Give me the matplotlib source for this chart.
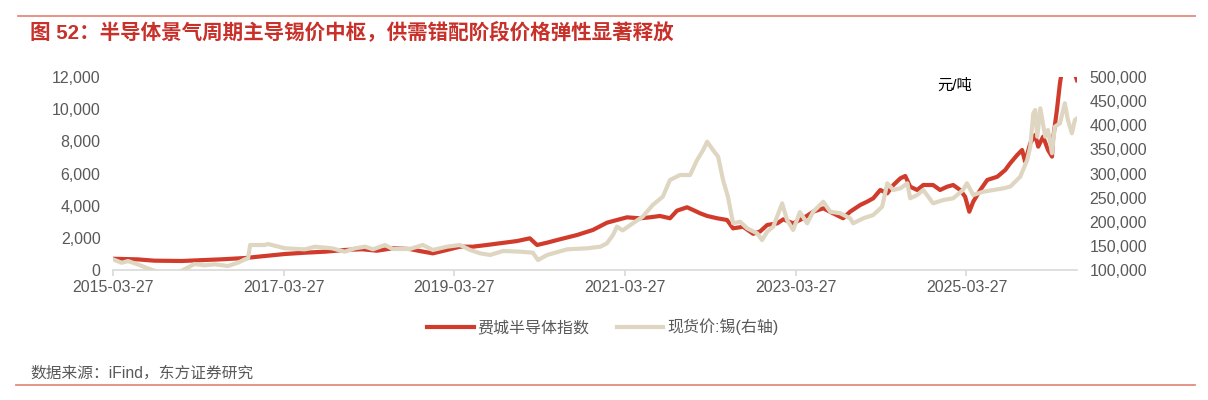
import matplotlib
matplotlib.use("Agg")
import matplotlib.pyplot as plt
from matplotlib.lines import Line2D
from matplotlib.ticker import FuncFormatter
import matplotlib.dates as mdates
import pandas as pd

plt.rcParams["font.family"] = ["Liberation Sans", "Noto Sans CJK SC"]

# 费城半导体指数 (left axis)
sox_dates = [
    "2015-03-27", "2015-07-10", "2015-09-20", "2016-01-15", "2016-04-22", "2016-07-05",
    "2016-10-12", "2017-01-05", "2017-04-01", "2017-06-25", "2017-09-20", "2017-12-13",
    "2018-02-24", "2018-04-30", "2018-07-06", "2018-09-17", "2018-10-30", "2018-12-25",
    "2019-02-23", "2019-04-20", "2019-06-14", "2019-08-13", "2019-10-07", "2019-12-20",
    "2020-02-13", "2020-03-15", "2020-04-27", "2020-06-21", "2020-09-02", "2020-11-09",
    "2021-01-08", "2021-02-20", "2021-04-04", "2021-05-29", "2021-07-11", "2021-08-23",
    "2021-10-05", "2021-11-04", "2021-12-17", "2022-01-12", "2022-02-11", "2022-03-13",
    "2022-04-25", "2022-06-06", "2022-07-02", "2022-08-14", "2022-09-26", "2022-10-26",
    "2022-11-25", "2023-01-07", "2023-02-02", "2023-03-16", "2023-04-28", "2023-06-10",
    "2023-07-23", "2023-09-03", "2023-10-16", "2023-11-15", "2023-12-28", "2024-01-27",
    "2024-02-22", "2024-03-23", "2024-04-22", "2024-05-18", "2024-06-17", "2024-07-08",
    "2024-07-29", "2024-08-28", "2024-09-23", "2024-11-04", "2024-12-04", "2025-01-03",
    "2025-01-29", "2025-02-28", "2025-03-21", "2025-04-08", "2025-04-25", "2025-05-25",
    "2025-06-24", "2025-08-06", "2025-09-09", "2025-09-30", "2025-10-30", "2025-11-20",
    "2025-12-03", "2025-12-25", "2026-01-15", "2026-01-28", "2026-02-18", "2026-03-11",
    "2026-03-28", "2026-04-01", "2026-04-18", "2026-05-01", "2026-05-14", "2026-06-05",
    "2026-06-24", "2026-07-13",
]
sox_values = [
    700, 660, 580, 560, 620, 665,
    745, 870, 995, 1075, 1140, 1245,
    1290, 1200, 1350, 1305, 1180, 1035,
    1245, 1450, 1450, 1555, 1660, 1800,
    1970, 1555, 1700, 1910, 2175, 2490,
    2940, 3110, 3275, 3215, 3275, 3360,
    3215, 3690, 3900, 3730, 3525, 3360,
    3215, 3110, 2590, 2690, 2250, 2400,
    2800, 2900, 3150, 2900, 3215, 3625,
    3835, 3525, 3215, 3625, 4040, 4250,
    4460, 4975, 4770, 5285, 5700, 5845,
    5180, 4975, 5285, 5285, 4975, 5180,
    5285, 4975, 4560, 3625, 4250, 4975,
    5600, 5800, 6220, 6635, 7150, 7460,
    6735, 7880, 8395, 7670, 8290, 7460,
    7050, 8085, 9950, 11610, 12800, 13200,
    12600, 11800,
]

# 现货价:锡 (right axis, 元/吨)
tin_dates = [
    "2015-03-27", "2015-05-04", "2015-05-30", "2015-07-10", "2015-08-22", "2015-10-04",
    "2015-12-03", "2016-01-27", "2016-03-10", "2016-04-22", "2016-06-04", "2016-07-31",
    "2016-09-12", "2016-10-12", "2016-10-25", "2016-11-03", "2017-01-05", "2017-01-18",
    "2017-04-01", "2017-06-25", "2017-08-07", "2017-10-19", "2017-12-13", "2018-01-26",
    "2018-03-10", "2018-04-13", "2018-06-03", "2018-07-06", "2018-09-17", "2018-11-12",
    "2018-12-25", "2019-02-23", "2019-04-20", "2019-06-02", "2019-07-15", "2019-08-27",
    "2019-10-22", "2020-01-03", "2020-02-26", "2020-03-19", "2020-04-27", "2020-07-22",
    "2020-10-16", "2020-12-11", "2021-01-08", "2021-02-03", "2021-02-20", "2021-03-16",
    "2021-04-29", "2021-06-10", "2021-07-23", "2021-09-04", "2021-10-05", "2021-11-17",
    "2021-12-30", "2022-01-29", "2022-02-24", "2022-03-13", "2022-04-07", "2022-04-29",
    "2022-05-20", "2022-06-10", "2022-07-02", "2022-08-01", "2022-08-31", "2022-10-13",
    "2022-11-03", "2022-11-25", "2022-12-21", "2023-01-28", "2023-02-18", "2023-03-16",
    "2023-04-14", "2023-05-15", "2023-06-10", "2023-07-23", "2023-08-22", "2023-10-04",
    "2023-11-15", "2023-11-28", "2024-01-10", "2024-02-22", "2024-03-31", "2024-04-22",
    "2024-05-18", "2024-06-17", "2024-07-17", "2024-07-29", "2024-08-28", "2024-09-23",
    "2024-11-04", "2024-12-18", "2025-01-29", "2025-03-12", "2025-03-29", "2025-04-25",
    "2025-06-07", "2025-07-20", "2025-09-01", "2025-09-30", "2025-11-12", "2025-12-12",
    "2025-12-25", "2026-01-07", "2026-01-15", "2026-01-24", "2026-02-06", "2026-02-27",
    "2026-03-11", "2026-03-28", "2026-04-09", "2026-05-01", "2026-05-22", "2026-06-04",
    "2026-06-21", "2026-07-04", "2026-07-13",
]
tin_values = [
    122000, 115000, 118600, 111800, 103500, 96000,
    88000, 101500, 112400, 109700, 111800, 108300,
    115200, 122200, 124000, 151800, 151800, 153900,
    145000, 142800, 148300, 145000, 138000, 145000,
    148300, 142900, 151800, 143500, 143500, 151800,
    141500, 148300, 151800, 141500, 134600, 131100,
    139400, 138000, 135900, 120700, 131100, 142900,
    145000, 148300, 155300, 172500, 190000, 182000,
    196800, 210500, 234700, 251900, 286500, 296900,
    296900, 328000, 348700, 365900, 348700, 334800,
    286500, 251900, 196800, 200100, 186400, 176000,
    162000, 179400, 189800, 238200, 203600, 182900,
    220000, 196800, 220800, 241500, 220800, 217500,
    207100, 196800, 207100, 214000, 231200, 279700,
    265800, 269300, 279700, 248600, 255400, 265800,
    238200, 245100, 248600, 265800, 279700, 255400,
    262300, 265800, 269300, 272700, 293400, 328000,
    355600, 424800, 431600, 376300, 435100, 376300,
    390200, 341900, 397000, 404000, 445500, 410900,
    383300, 410900, 414300,
]

tick_dates = ["2015-03-27", "2017-03-27", "2019-03-27", "2021-03-27", "2023-03-27", "2025-03-27"]

RED = "#D13B2C"
TIN = "#DFD6C2"
GRAY = "#595959"
AXIS_GRAY = "#D9D9D9"

fig = plt.figure(figsize=(12.08, 4.0), dpi=100)
ax = fig.add_axes([113 / 1208, 1 - 270 / 400, 964 / 1208, 193 / 400])
ax2 = ax.twinx()

l1, = ax.plot(pd.to_datetime(sox_dates), sox_values, color=RED, lw=3.0,
              label="费城半导体指数")
l2, = ax2.plot(pd.to_datetime(tin_dates), tin_values, color=TIN, lw=3.0,
               label="现货价:锡(右轴)")

ax.set_xlim(pd.Timestamp("2015-03-27"), pd.Timestamp("2026-07-13"))
ax.set_ylim(0, 12000)
ax2.set_ylim(100000, 500000)
ax.set_yticks(range(0, 12001, 2000))
ax2.set_yticks(range(100000, 500001, 50000))

comma = FuncFormatter(lambda v, p: f"{int(v):,}")
ax.yaxis.set_major_formatter(comma)
ax2.yaxis.set_major_formatter(comma)

ax.set_xticks(pd.to_datetime(tick_dates))
ax.xaxis.set_major_formatter(mdates.DateFormatter("%Y-%m-%d"))

for a in (ax, ax2):
    for s in ("top", "left", "right", "bottom"):
        a.spines[s].set_visible(False)
ax.spines["bottom"].set_visible(True)
ax.spines["bottom"].set_color(AXIS_GRAY)
ax.spines["bottom"].set_linewidth(1.2)

ax.tick_params(axis="x", colors=AXIS_GRAY, length=4, width=1.2, pad=3,
               labelcolor=GRAY, labelsize=11.5)
ax.tick_params(axis="y", length=0, pad=9, labelcolor=GRAY, labelsize=11.5)
ax2.tick_params(axis="y", length=0, pad=9, labelcolor=GRAY, labelsize=11.5)

fig.text(937 / 1208, 1 - 86 / 400, "元/吨", fontsize=11, color="black", va="center")

fig.legend(handles=[l1, l2], loc="center", bbox_to_anchor=(0.499, 1 - 327 / 400),
           ncol=2, frameon=False, fontsize=11.5, handlelength=2.9,
           handletextpad=0.25, columnspacing=1.7, labelcolor=GRAY)

fig.text(30 / 1208, 1 - 32 / 400, "图 52：半导体景气周期主导锡价中枢，供需错配阶段价格弹性显著释放",
         fontsize=14.8, fontweight="bold", color="#C8302A", va="center")
fig.text(30 / 1208, 1 - 373 / 400, "数据来源：iFind，东方证券研究",
         fontsize=11.3, color=GRAY, va="center")

fig.add_artist(Line2D([18 / 1208, 1195 / 1208], [1 - 16 / 400] * 2, color="#E48A7F", lw=1.3))
fig.add_artist(Line2D([16 / 1208, 1195 / 1208], [1 - 385 / 400] * 2, color="#E48A7F", lw=1.3))

fig.savefig("out.png", dpi=100)
